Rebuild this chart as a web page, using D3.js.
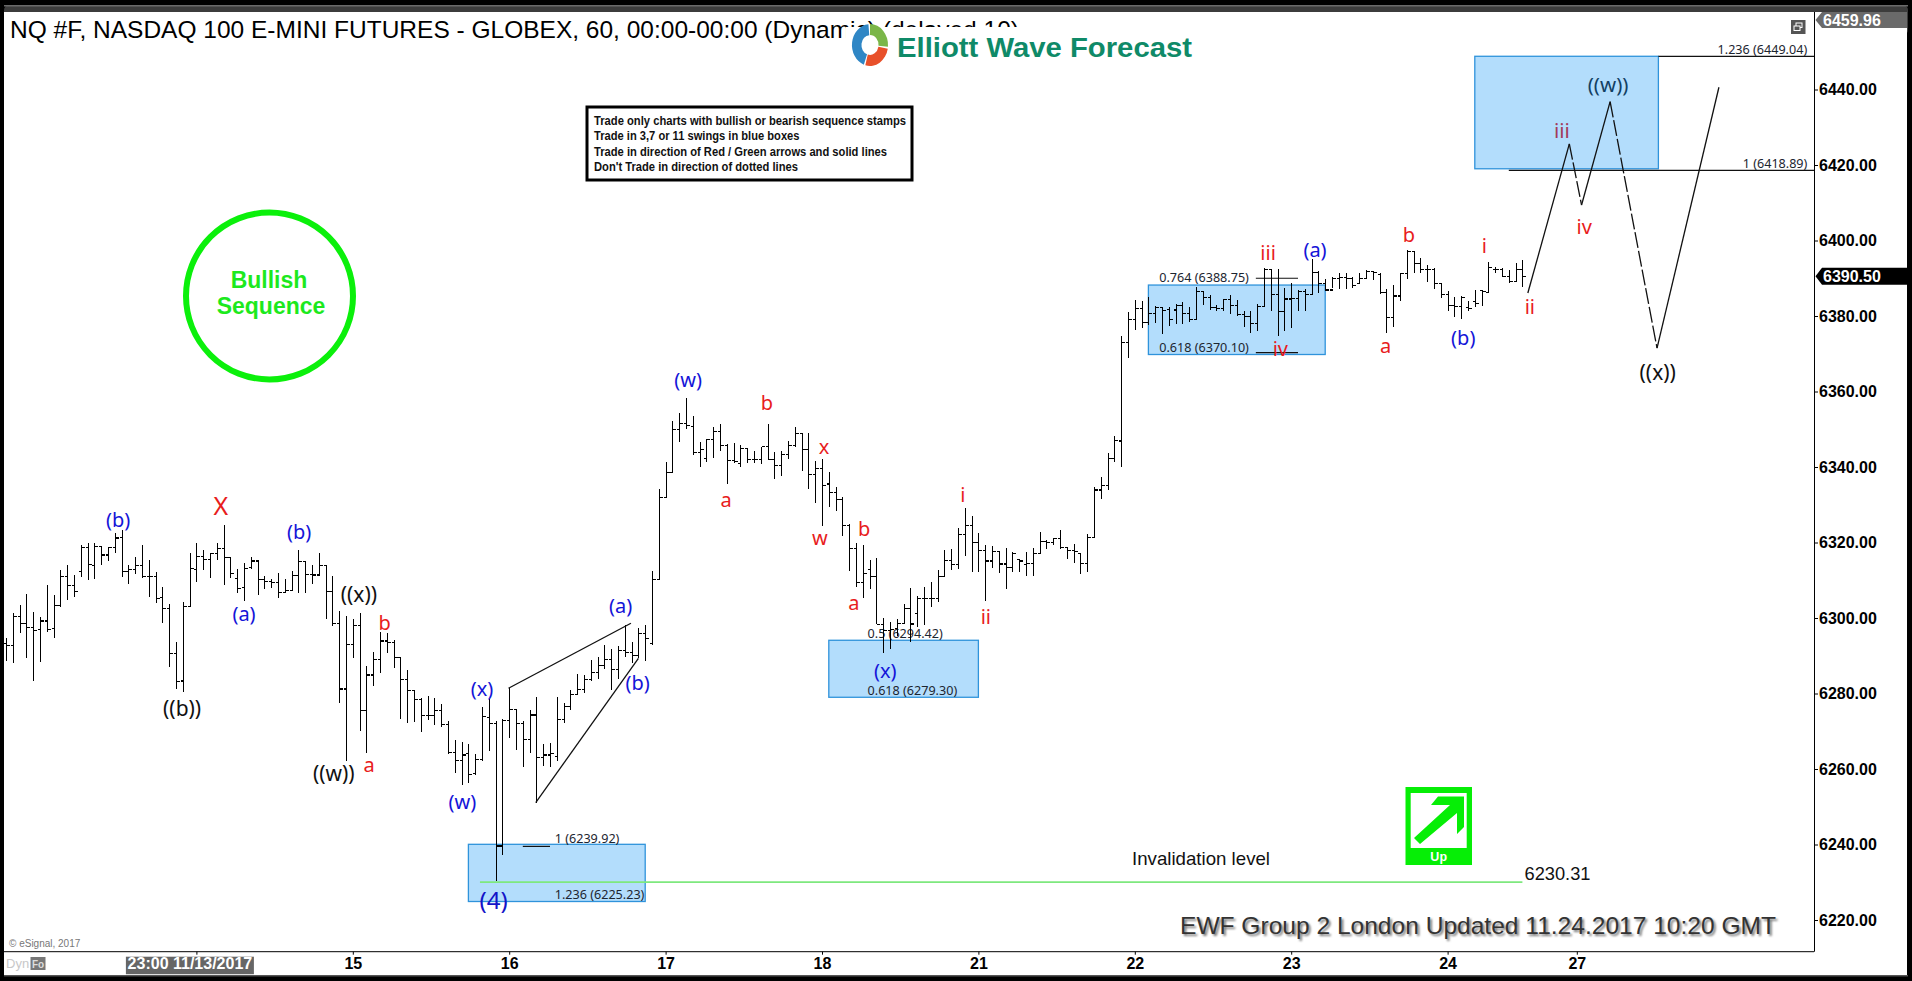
<!DOCTYPE html>
<html><head><meta charset="utf-8">
<script src="https://cdn.jsdelivr.net/npm/d3@7/dist/d3.min.js"></script>
<style>html,body{margin:0;padding:0;background:#000;overflow:hidden}svg{display:block}</style>
</head><body><svg id="c" width="1912" height="981"></svg>
<script>
const opens=[6293.3,6292.8,6300.5,6298.6,6297.5,6297.0,6299.2,6297.3,6303.3,6311.1,
6308.6,6312.2,6318.7,6314.0,6318.9,6316.7,6318.7,6321.3,6312.3,6312.9,
6314.0,6311.1,6311.1,6305.5,6302.5,6290.5,6283.3,6303.0,6312.9,6316.4,
6315.6,6317.1,6318.4,6316.1,6310.5,6308.1,6313.4,6315.1,6310.2,6309.6,
6309.4,6306.8,6307.4,6311.2,6314.9,6311.6,6311.4,6314.0,6307.0,6298.6,
6281.2,6293.0,6298.1,6275.4,6284.9,6289.1,6293.9,6293.5,6289.5,6283.6,
6280.7,6278.3,6274.1,6274.1,6275.4,6271.8,6264.3,6262.2,6264.0,6258.8,
6262.6,6273.7,6272.1,6239.6,6272.8,6275.7,6272.0,6267.7,6274.3,6263.0,
6263.7,6263.3,6273.0,6276.5,6279.8,6281.1,6283.8,6285.6,6287.4,6289.1,
6286.4,6291.4,6290.9,6290.0,6296.0,6293.3,6310.3,6331.9,6338.6,6350.0,
6351.6,6350.7,6343.9,6342.3,6347.3,6349.5,6345.8,6341.8,6341.0,6344.8,
6342.1,6342.1,6345.4,6341.9,6340.5,6343.4,6345.8,6348.9,6344.7,6338.1,
6339.6,6335.5,6333.3,6331.3,6324.6,6318.5,6309.5,6312.9,6311.1,6298.3,
6296.8,6297.3,6298.6,6302.6,6301.2,6305.2,6305.2,6305.2,6311.1,6315.2,
6314.2,6322.2,6324.5,6320.1,6317.8,6315.1,6317.6,6314.3,6313.4,6315.4,
6314.2,6314.5,6317.0,6320.2,6320.0,6321.1,6318.7,6318.0,6317.0,6314.5,
6321.3,6333.9,6335.0,6342.3,6346.9,6373.0,6379.1,6382.0,6378.2,6380.7,
6382.3,6381.8,6381.6,6382.9,6380.7,6379.1,6386.5,6385.0,6382.3,6382.0,
6384.3,6382.7,6380.5,6379.9,6377.9,6382.5,6392.2,6385.6,6381.2,6384.5,
6384.7,6386.5,6385.8,6391.5,6388.7,6386.9,6390.0,6390.3,6390.0,6388.7,
6390.0,6391.8,6390.9,6386.3,6379.6,6385.3,6391.3,6397.1,6394.0,6392.4,
6392.2,6388.7,6385.6,6382.7,6382.5,6382.3,6383.8,6386.7,6386.2,6392.2,
6392.2,6390.4,6389.1,6392.4];
const highs=[6294.6,6301.2,6303.4,6306.3,6301.7,6300.3,6308.7,6306.1,6312.7,6314.0,
6311.4,6319.3,6320.0,6320.0,6319.1,6318.9,6322.6,6323.3,6314.0,6316.2,
6319.3,6315.4,6312.3,6308.1,6303.7,6293.7,6304.3,6317.3,6320.0,6318.0,
6317.1,6320.0,6324.6,6316.2,6313.1,6314.5,6316.1,6314.9,6311.1,6310.2,
6311.8,6310.3,6312.4,6318.0,6314.9,6314.0,6317.1,6314.0,6311.1,6301.8,
6300.5,6299.7,6301.2,6287.3,6290.9,6296.4,6296.1,6294.2,6289.5,6286.2,
6280.7,6278.7,6279.3,6278.7,6277.1,6272.7,6267.8,6267.2,6266.5,6264.1,
6276.3,6278.5,6272.7,6273.3,6281.4,6275.8,6272.6,6275.7,6279.2,6266.6,
6266.8,6279.0,6277.4,6280.8,6285.2,6284.8,6288.9,6289.8,6292.9,6291.7,
6292.6,6298.2,6293.6,6297.3,6298.2,6312.4,6334.2,6341.2,6352.3,6354.2,
6358.2,6353.5,6346.7,6347.3,6350.7,6351.4,6346.0,6346.3,6345.7,6344.7,
6344.2,6345.2,6351.4,6344.1,6344.3,6346.9,6350.5,6348.9,6348.9,6341.6,
6342.1,6338.6,6334.6,6332.1,6324.8,6320.0,6319.3,6315.4,6315.8,6299.9,
6299.0,6299.7,6303.7,6307.9,6305.7,6308.1,6309.5,6312.7,6318.0,6318.2,
6323.8,6329.1,6327.0,6322.4,6319.3,6319.2,6317.6,6318.5,6317.6,6315.4,
6317.4,6318.5,6322.7,6320.7,6321.3,6323.3,6318.9,6319.5,6317.0,6322.2,
6334.6,6337.4,6343.6,6348.2,6374.7,6381.0,6384.3,6384.0,6385.1,6382.7,
6382.3,6382.3,6383.2,6383.8,6382.3,6387.6,6386.7,6385.6,6382.9,6384.4,
6385.6,6384.3,6381.2,6381.4,6383.2,6392.6,6392.4,6392.4,6387.3,6388.7,
6386.9,6387.1,6395.0,6392.0,6389.7,6390.4,6391.5,6391.3,6390.4,6391.3,
6392.2,6391.8,6391.3,6387.1,6388.2,6391.5,6397.5,6397.3,6395.3,6393.5,
6392.8,6388.7,6386.5,6385.1,6385.3,6384.0,6386.9,6386.9,6394.2,6393.1,
6392.6,6392.2,6394.1,6394.9];
const lows=[6288.7,6288.0,6295.9,6289.5,6283.4,6288.4,6296.4,6294.6,6303.0,6304.9,
6305.6,6310.9,6310.1,6310.4,6314.0,6315.2,6317.3,6310.9,6308.9,6311.6,
6310.5,6305.6,6304.1,6298.6,6287.1,6281.1,6280.5,6303.0,6309.6,6312.7,
6310.7,6315.4,6308.8,6310.5,6306.7,6304.6,6312.9,6306.1,6307.8,6308.0,
6305.2,6306.5,6307.2,6306.7,6306.7,6309.0,6311.2,6299.7,6298.0,6277.6,
6262.2,6289.5,6270.1,6264.3,6282.1,6285.5,6290.8,6286.8,6273.2,6272.3,
6272.4,6269.9,6273.1,6271.6,6271.0,6264.1,6259.0,6255.8,6256.4,6258.4,
6262.2,6264.9,6230.4,6237.3,6268.3,6265.1,6260.6,6264.2,6251.1,6260.9,
6260.4,6262.2,6272.3,6275.5,6279.9,6280.1,6283.2,6283.8,6286.4,6280.8,
6283.9,6289.8,6288.0,6289.3,6288.7,6292.8,6310.3,6331.9,6338.6,6346.7,
6350.0,6343.2,6340.1,6341.4,6342.5,6344.3,6335.4,6341.1,6340.1,6341.0,
6341.1,6340.7,6341.9,6336.9,6337.7,6342.0,6345.4,6339.0,6334.2,6330.5,
6324.5,6329.5,6328.4,6321.8,6312.5,6308.1,6305.2,6307.6,6298.3,6290.8,
6291.7,6295.1,6298.6,6293.7,6297.7,6298.2,6302.8,6304.3,6311.0,6312.7,
6312.9,6316.3,6312.3,6312.3,6304.6,6313.2,6311.8,6307.8,6312.3,6312.3,
6311.2,6311.0,6317.1,6318.3,6319.3,6318.3,6315.6,6314.5,6311.6,6312.1,
6321.1,6331.4,6333.9,6341.2,6340.1,6369.0,6376.3,6376.9,6377.6,6378.1,
6375.3,6377.4,6377.8,6377.9,6378.5,6379.1,6382.9,6381.6,6381.4,6381.2,
6380.5,6380.1,6377.0,6375.4,6375.9,6382.3,6381.4,6374.7,6375.9,6376.8,
6381.4,6381.4,6385.6,6386.0,6386.5,6387.3,6387.1,6387.1,6387.3,6388.7,
6390.0,6389.6,6385.9,6375.4,6377.2,6384.1,6389.7,6391.3,6391.3,6389.1,
6387.1,6384.7,6381.4,6379.7,6379.3,6381.3,6382.5,6382.7,6386.2,6391.3,
6390.4,6388.7,6389.1,6387.8];
const closes=[6292.8,6300.5,6298.6,6297.5,6296.8,6299.2,6297.0,6303.3,6311.1,6308.6,
6307.1,6318.7,6314.2,6318.9,6316.7,6318.7,6321.2,6312.3,6312.9,6314.0,
6310.9,6311.1,6305.2,6302.5,6290.5,6283.1,6303.0,6313.1,6316.4,6315.6,
6317.1,6318.4,6316.1,6311.8,6307.8,6313.1,6315.1,6310.2,6309.6,6309.4,
6306.8,6307.4,6311.2,6314.9,6311.6,6311.4,6314.0,6307.0,6298.6,6281.2,
6293.0,6298.1,6275.4,6284.9,6289.1,6293.9,6293.5,6289.5,6283.6,6280.7,
6278.3,6274.1,6274.1,6275.4,6271.8,6264.3,6262.2,6263.7,6258.6,6262.6,
6273.9,6272.1,6239.6,6272.8,6275.7,6272.0,6267.7,6274.3,6263.0,6263.7,
6264.2,6273.0,6276.5,6279.8,6281.1,6283.8,6285.6,6287.4,6289.1,6286.4,
6291.4,6290.9,6290.0,6296.0,6294.6,6310.3,6331.9,6338.6,6350.0,6351.6,
6351.0,6343.9,6344.7,6347.3,6349.5,6345.8,6341.8,6341.4,6344.8,6342.1,
6342.1,6345.4,6342.1,6340.5,6343.4,6345.8,6348.9,6344.7,6338.1,6339.6,
6335.1,6333.3,6331.3,6324.6,6318.5,6309.5,6311.7,6311.1,6298.3,6296.8,
6297.0,6298.6,6302.6,6298.4,6305.2,6305.2,6305.2,6311.1,6315.2,6314.2,
6322.2,6324.5,6320.1,6317.8,6315.1,6317.6,6314.3,6313.4,6317.1,6315.1,
6314.5,6317.0,6320.2,6320.0,6321.1,6318.7,6318.0,6317.6,6314.5,6321.3,
6333.9,6335.0,6342.3,6347.0,6373.0,6379.1,6382.0,6378.2,6380.7,6382.3,
6381.4,6379.0,6382.9,6380.7,6379.1,6386.5,6385.0,6382.3,6382.0,6384.3,
6382.7,6380.5,6379.9,6377.9,6382.5,6392.2,6385.6,6381.2,6384.5,6384.7,
6386.5,6385.8,6391.5,6388.7,6386.9,6390.0,6390.3,6390.0,6388.0,6390.0,
6391.8,6391.6,6386.3,6379.6,6385.3,6391.3,6397.1,6394.0,6392.4,6392.2,
6388.7,6385.6,6382.7,6382.5,6385.0,6382.0,6383.4,6386.5,6392.8,6392.2,
6390.4,6389.1,6392.4,6390.4];

const yTickValues=[6220,6240,6260,6280,6300,6320,6340,6360,6380,6400,6420,6440];
const xTickIndex=[28,51,74,97,120,143,166,189,212,231];
const xTickLabels=["23:00 11/13/2017","15","16","17","18","21","22","23","24","27"];

const blueBoxes=[[68,94,6240.05,6224.9],[121,143,6294.1,6279.0],[168,194,6388.2,6369.8],[216,243,6448.8,6419.0]];
const fibSegments=[[76,80,6239.5],[183.8,190,6390.0],[183.8,190,6370.3],[243,265.9,6448.8],[221,265.9,6418.6]];
const fibLabels=[["1 (6239.92)",80.7,6241.5],["1.236 (6225.23)",80.7,6226.8],["0.5 (6294.42)",126.7,6295.9],["0.618 (6279.30)",126.7,6280.7],["0.764 (6388.75)",169.6,6390.1],["0.618 (6370.10)",169.6,6371.6],["1.236 (6449.04)",251.7,6450.5],["1 (6418.89)",255.4,6420.3]];
const wedgeUpper=[[73.9,6281.4],[91.9,6298.6]];
const wedgeLower=[[77.9,6251.1],[93,6289.3]];
const projection=[[223.8,6386.1],[229.9,6425.6],[231.7,6409.4],[235.9,6436.8],[242.8,6371.5],[251.9,6440.6]];
const projectionDashed=[false,true,false,true,false];
const invalidation={value:6230.31,from:69.7,to:223};
const blueWaves=[["(b)",16.5,6326.0],["(b)",43.1,6322.8],["(a)",35,6301.3],["(w)",67.1,6251.3],["(x)",70,6281.2],["(a)",90.4,6303.4],["(b)",92.9,6282.8],["(w)",100.3,6363.3],["(x)",129.3,6286.0],["(a)",192.5,6397.7],["(b)",214.3,6374.2]];
const redWaves=[["b",55.7,6298.7],["a",53.4,6261.1],["b",111.9,6357.0],["a",105.9,6331.5],["x",120.3,6345.3],["w",119.7,6321.2],["b",126.2,6323.6],["a",124.7,6304.2],["i",140.7,6332.8],["ii",144.1,6300.3],["iii",185.6,6396.7],["iv",187.4,6371.5],["a",202.9,6372.1],["b",206.3,6401.5],["i",217.4,6398.8],["ii",224.1,6382.4],["iv",232.1,6403.6]];
const blackWaves=[["((b))",25.9,6276.2],["((x))",51.9,6306.4],["((w))",48.2,6258.9],["((x))",242.9,6365.2]];
const inBoxWaves=[["iii",228.8,6429.3,"#a23a5a"],["((w))",235.6,6441.5,"#123f63"]];
const infoLines=["Trade only charts with bullish or bearish sequence stamps","Trade in 3,7 or 11 swings in blue boxes","Trade in direction of Red / Green arrows and solid lines","Don't Trade in direction of dotted lines"];
const titleText="NQ #F, NASDAQ 100 E-MINI FUTURES - GLOBEX, 60, 00:00-00:00 (Dynamic) (delayed 10)";
const lastPrice=6390.50, topPrice=6459.96;

const svg=d3.select("#c");
const SANS="'Liberation Sans',Arial,sans-serif", TAH="'Noto Sans',sans-serif";
const x=d3.scaleLinear().domain([0,223]).range([6,1522.4]);
const y=d3.scaleLinear().domain([6440,6220]).range([89.5,920]);
const PL=4,PR=1814,PT=12,PB=951.7;

/* frame */
svg.append("rect").attr("width",1912).attr("height",981).attr("fill","#000");
svg.append("rect").attr("x",4).attr("y",5).attr("width",1904).attr("height",30).attr("rx",5).attr("fill","#3c3c3c");
svg.append("rect").attr("x",4).attr("y",5).attr("width",1904).attr("height",1.5).attr("fill","#6a6a6a");
svg.append("rect").attr("x",4).attr("y",975).attr("width",1904).attr("height",1.5).attr("fill","#555");
svg.append("rect").attr("x",PL).attr("y",PT).attr("width",1903).attr("height",963).attr("fill","#fff");

/* boxes */
svg.append("g").selectAll("rect").data(blueBoxes).join("rect")
 .attr("x",d=>x(d[0])).attr("width",d=>x(d[1])-x(d[0])).attr("y",d=>y(d[2])).attr("height",d=>y(d[3])-y(d[2]))
 .attr("fill","#b3ddfc").attr("stroke","#2f93db").attr("stroke-width",1.3);

/* fib lines */
svg.append("g").selectAll("line").data(fibSegments).join("line")
 .attr("x1",d=>x(d[0])).attr("x2",d=>x(d[1])).attr("y1",d=>y(d[2])).attr("y2",d=>y(d[2]))
 .attr("stroke","#111").attr("stroke-width",1.2);
svg.append("g").selectAll("text").data(fibLabels).join("text")
 .attr("x",d=>x(d[1])).attr("y",d=>y(d[2])).attr("dominant-baseline","central")
 .attr("font-family",TAH).attr("font-size",12.6).attr("fill","#1c2530").text(d=>d[0]);

/* invalidation line */
svg.append("line").attr("x1",x(invalidation.from)).attr("x2",x(invalidation.to))
 .attr("y1",y(invalidation.value)+1).attr("y2",y(invalidation.value)+1)
 .attr("stroke","#7ee87e").attr("stroke-width",1.6);

/* OHLC bars */
const bars=svg.append("g").attr("stroke","#000").attr("stroke-width",1.1).attr("shape-rendering","crispEdges");
highs.forEach((h,i)=>{
  const cx=Math.round(x(i))+.5;
  bars.append("line").attr("x1",cx).attr("x2",cx).attr("y1",y(h)).attr("y2",y(lows[i]));
  bars.append("line").attr("x1",cx-3).attr("x2",cx).attr("y1",y(opens[i])).attr("y2",y(opens[i]));
  bars.append("line").attr("x1",cx).attr("x2",cx+3).attr("y1",y(closes[i])).attr("y2",y(closes[i]));
});

/* wedge + projected path */
const ln=d3.line().x(d=>x(d[0])).y(d=>y(d[1]));
[wedgeUpper,wedgeLower].forEach(w=>svg.append("path").attr("d",ln(w)).attr("fill","none").attr("stroke","#111").attr("stroke-width",1.3));
projectionDashed.forEach((dash,i)=>{
  svg.append("path").attr("d",ln([projection[i],projection[i+1]])).attr("fill","none")
   .attr("stroke","#111").attr("stroke-width",1.3).attr("stroke-dasharray",dash?"16 3":null);
});

/* wave labels */
function waves(list,color,size){
  svg.append("g").selectAll("text").data(list).join("text")
   .attr("x",d=>x(d[1])).attr("y",d=>y(d[2])).attr("text-anchor","middle").attr("dominant-baseline","central")
   .attr("font-family",TAH).attr("font-size",size).attr("fill",d=>d[3]||color).text(d=>d[0]);
}
waves(blueWaves,"#1414d8",20);
waves(redWaves,"#e81c1c",20);
waves(blackWaves,"#111",21);
waves(inBoxWaves,"#111",20.5);
waves([["(4)",71.7,6225.3]],"#1414c8",24);
waves([["X",31.6,6329.9]],"#e81c1c",25);

/* axes */
const yAxis=d3.axisRight(y).tickValues(yTickValues).tickSize(4).tickPadding(1).tickFormat(d3.format(".2f"));
const ya=svg.append("g").attr("transform",`translate(${PR},0)`).call(yAxis);
ya.select(".domain").remove();
ya.selectAll("text").attr("font-family",SANS).attr("font-size",16).attr("font-weight","bold").attr("fill","#000");
ya.selectAll("line").attr("stroke","#000");
svg.append("line").attr("x1",PR+.5).attr("x2",PR+.5).attr("y1",PT).attr("y2",PB).attr("stroke","#000");
const xAxis=d3.axisBottom(x).tickValues(xTickIndex).tickSize(3).tickPadding(3).tickFormat(d=>xTickLabels[xTickIndex.indexOf(d)]);
const xa=svg.append("g").attr("transform",`translate(0,${PB})`).call(xAxis);
xa.select(".domain").remove();
xa.selectAll("line").attr("stroke","#000");
xa.selectAll("text").attr("font-family",SANS).attr("font-size",16).attr("font-weight","bold").attr("fill","#000").attr("dy","0.71em");
svg.append("line").attr("x1",PL).attr("x2",PR).attr("y1",PB).attr("y2",PB).attr("stroke","#000");
/* first tick gets the grey date chip */
xa.selectAll(".tick").filter(d=>d===xTickIndex[0]).each(function(){
  const g=d3.select(this);
  g.insert("rect","text").attr("x",-71).attr("y",5).attr("width",128).attr("height",17.5).attr("fill","#666");
  g.select("text").attr("fill","#fff").attr("dx",-7);
});

/* price flags */
function flag(top,h,fill,label){
  const t=top,b=top+h,m=top+h/2;
  svg.append("path").attr("d",`M1815.5 ${m}L1822 ${t}H1907V${b}H1822Z`).attr("fill",fill);
  svg.append("text").attr("x",1823).attr("y",m).attr("dominant-baseline","central").attr("font-family",SANS)
   .attr("font-size",16).attr("font-weight","bold").attr("fill","#fff").text(label);
}
flag(12,16,"#6a6a6a",topPrice.toFixed(2));
flag(y(lastPrice)-8.5,17,"#000",lastPrice.toFixed(2));

/* restore icon */
svg.append("rect").attr("x",1791).attr("y",20).attr("width",14.5).attr("height",14).attr("fill","#555");
svg.append("rect").attr("x",1796).attr("y",23).attr("width",6).attr("height",4.5).attr("fill","none").attr("stroke","#fff");
svg.append("rect").attr("x",1794).attr("y",26).attr("width",6).attr("height",4.5).attr("fill","#555").attr("stroke","#fff");

/* title + logo */
svg.append("text").attr("x",10).attr("y",38).attr("font-family",SANS).attr("font-size",24.5).attr("fill","#000").text(titleText);
svg.append("rect").attr("x",846).attr("y",27).attr("width",360).attr("height",36).attr("fill","#fff");
const arc=d3.arc().innerRadius(9).outerRadius(19);
const logoG=svg.append("g").attr("transform","translate(870,45) scale(0.95,1.1)");
[["#7ab648",0,95],["#e8502a",100,195],["#2f86c5",200,355]].forEach(s=>{
  logoG.append("path").attr("d",arc({startAngle:s[1]*Math.PI/180,endAngle:s[2]*Math.PI/180})).attr("fill",s[0]);
});
svg.append("text").attr("x",897).attr("y",56.5).attr("font-family",SANS).attr("font-weight","bold").attr("font-size",28)
 .attr("textLength",295).attr("lengthAdjust","spacingAndGlyphs").attr("fill","#0f8a68").text("Elliott Wave Forecast");

/* info box */
svg.append("rect").attr("x",587).attr("y",107).attr("width",325).attr("height",73).attr("fill","#fff").attr("stroke","#000").attr("stroke-width",3);
const infoW=[312,205.5,293,204];
svg.append("g").selectAll("text").data(infoLines).join("text")
 .attr("x",594).attr("y",(d,i)=>121+i*15.4).attr("dominant-baseline","central")
 .attr("font-family","'Liberation Sans Narrow',"+SANS).attr("font-weight","bold").attr("font-size",12.5)
 .attr("textLength",(d,i)=>infoW[i]).attr("lengthAdjust","spacingAndGlyphs").attr("fill","#111").text(d=>d);

/* bullish stamp */
svg.append("circle").attr("cx",269.5).attr("cy",296).attr("r",83.5).attr("fill","none").attr("stroke","#0bf00b").attr("stroke-width",6);
svg.append("text").attr("x",269).attr("y",280).attr("text-anchor","middle").attr("dominant-baseline","central").attr("font-family",SANS).attr("font-weight","bold").attr("font-size",23).attr("fill","#1de91d").text("Bullish");
svg.append("text").attr("x",271).attr("y",306).attr("text-anchor","middle").attr("dominant-baseline","central").attr("font-family",SANS).attr("font-weight","bold").attr("font-size",23).attr("fill","#1de91d").text("Sequence");

/* up stamp */
svg.append("rect").attr("x",1405.5).attr("y",787).attr("width",66.5).attr("height",78).attr("fill","#06ee06");
svg.append("rect").attr("x",1410.7).attr("y",793).attr("width",56).attr("height",55).attr("fill","#fff");
svg.append("path").attr("d","M1414 838L1450 805H1431L1438 796.5H1464V827L1457 834V813L1420 844Z").attr("fill","#06ee06");
svg.append("text").attr("x",1438.7).attr("y",857).attr("text-anchor","middle").attr("dominant-baseline","central").attr("font-family",SANS).attr("font-weight","bold").attr("font-size",12.5).attr("fill","#fff").text("Up");

/* notes */
svg.append("text").attr("x",1132).attr("y",858).attr("dominant-baseline","central").attr("font-family",SANS).attr("font-size",19).attr("textLength",138).attr("lengthAdjust","spacingAndGlyphs").attr("fill","#111").text("Invalidation level");
svg.append("text").attr("x",1524.5).attr("y",873).attr("dominant-baseline","central").attr("font-family",SANS).attr("font-size",19).attr("textLength",66).attr("lengthAdjust","spacingAndGlyphs").attr("fill","#111").text(invalidation.value.toFixed(2));
const defs=svg.append("defs");
defs.append("filter").attr("id","bl").append("feGaussianBlur").attr("stdDeviation",1);
svg.append("text").attr("x",1182).attr("y",927.5).attr("dominant-baseline","central").attr("font-family",SANS).attr("font-size",24).attr("textLength",596).attr("lengthAdjust","spacingAndGlyphs").attr("fill","#777").attr("filter","url(#bl)").text("EWF Group 2 London Updated 11.24.2017 10:20 GMT");
svg.append("text").attr("x",1180).attr("y",925).attr("dominant-baseline","central").attr("font-family",SANS).attr("font-size",24).attr("textLength",596).attr("lengthAdjust","spacingAndGlyphs").attr("fill","#333").text("EWF Group 2 London Updated 11.24.2017 10:20 GMT");
svg.append("text").attr("x",9).attr("y",943).attr("dominant-baseline","central").attr("font-family",SANS).attr("font-size",10).attr("fill","#777").text("© eSignal, 2017");
svg.append("text").attr("x",6).attr("y",963).attr("dominant-baseline","central").attr("font-family",SANS).attr("font-size",13).attr("fill","#c8c8c8").text("Dyn");
svg.append("rect").attr("x",30.5).attr("y",957).attr("width",15).attr("height",13).attr("fill","#777");
svg.append("text").attr("x",38).attr("y",964).attr("text-anchor","middle").attr("dominant-baseline","central").attr("font-family",SANS).attr("font-weight","bold").attr("font-size",10).attr("fill","#ddd").text("Fo");
</script></body></html>
